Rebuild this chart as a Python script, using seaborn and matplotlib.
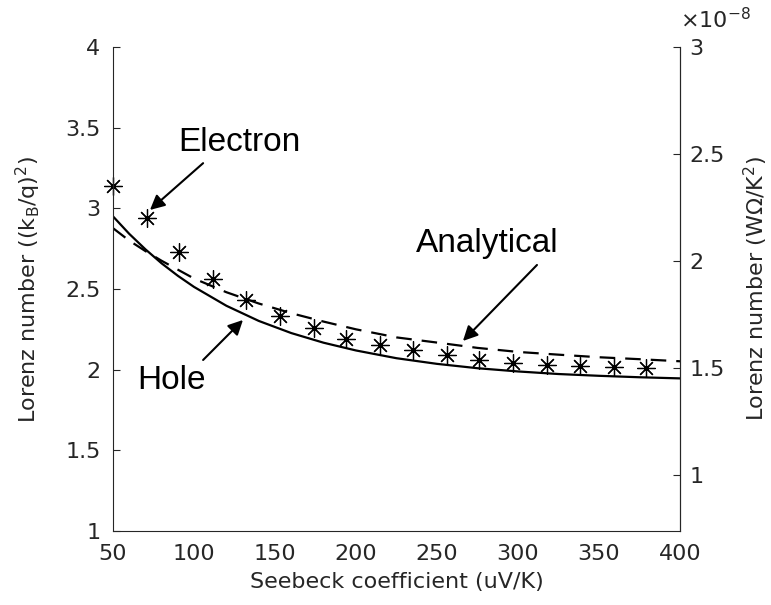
import numpy as np
import pandas as pd
import matplotlib
matplotlib.use("Agg")
import matplotlib.pyplot as plt
import seaborn as sns

# 数据
seebeck_line = [50, 60, 70, 80, 90, 100, 120, 140, 160, 180, 200,
                225, 250, 275, 300, 325, 350, 375, 400]
lorenz_hole = [2.95, 2.842, 2.746, 2.659, 2.582, 2.513, 2.396, 2.302, 2.227, 2.167, 2.119,
               2.071, 2.036, 2.009, 1.989, 1.973, 1.962, 1.953, 1.946]
lorenz_analytical = [2.877, 2.80, 2.735, 2.675, 2.62, 2.565, 2.48, 2.41, 2.35, 2.298, 2.25,
                     2.20, 2.168, 2.135, 2.11, 2.093, 2.077, 2.065, 2.052]

seebeck_electron = [50, 71, 91, 112, 132, 153, 174, 194, 215, 235, 256,
                    276, 297, 318, 338, 359, 379]
lorenz_electron = [3.14, 2.94, 2.73, 2.56, 2.43, 2.33, 2.26, 2.19, 2.15, 2.12, 2.09,
                   2.06, 2.04, 2.03, 2.022, 2.015, 2.01]

x_ticks = [50, 100, 150, 200, 250, 300, 350, 400]
left_ticks = [1, 1.5, 2, 2.5, 3, 3.5, 4]
right_ticks = [1, 1.5, 2, 2.5, 3]

sns.set_style("white")
plt.rcParams['font.family'] = ['DejaVu Sans']
gray = '#262626'

fig = plt.figure(figsize=(7.71, 6.05), dpi=100)
ax = fig.add_axes([0.1466, 0.1223, 0.7354, 0.80])

df_line = pd.DataFrame({'x': seebeck_line, 'hole': lorenz_hole, 'ana': lorenz_analytical})
df_e = pd.DataFrame({'x': seebeck_electron, 'y': lorenz_electron})

sns.lineplot(data=df_line, x='x', y='hole', ax=ax, color='k', lw=1.6)
sns.lineplot(data=df_line, x='x', y='ana', ax=ax, color='k', lw=1.6,
             linestyle=(0, (7, 4.5)))
sns.lineplot(data=df_e, x='x', y='y', ax=ax, color='k', linestyle='none',
             marker=(8, 2, 0), markersize=13, markeredgewidth=0.9,
             markeredgecolor='k', clip_on=False)

ax.set_xlim(50, 400)
ax.set_ylim(1, 4)
ax.set_xticks(x_ticks)
ax.set_yticks(left_ticks)
ax.set_yticklabels(['%g' % t for t in left_ticks])
ax.set_xlabel('Seebeck coefficient (uV/K)', fontsize=16, color=gray, labelpad=6)
ax.set_ylabel('Lorenz number ((k$_\\mathregular{B}$/q)$^\\mathregular{2}$)',
              fontsize=16, color=gray, labelpad=16)

# 右侧坐标轴 (单位 1e-8)
ax2 = ax.twinx()
ax2.set_ylim(0.74, 3)
ax2.set_yticks(right_ticks)
ax2.set_yticklabels(['%g' % t for t in right_ticks])
ax2.set_ylabel('Lorenz number (W\u03a9/K$^\\mathregular{2}$)', fontsize=16, color=gray,
               labelpad=12)
ax2.text(1.0, 1.03, '$\\times$10$^{-8}$', transform=ax2.transAxes, fontsize=16,
         color=gray, ha='left', va='bottom')

for a in (ax, ax2):
    a.spines['top'].set_visible(False)
    for s in a.spines.values():
        s.set_color(gray)
        s.set_linewidth(0.8)
    a.tick_params(direction='in', length=5, width=0.8, colors=gray, labelsize=16)
ax.tick_params(axis='y', right=False, pad=9)
ax.tick_params(axis='x', pad=9)
ax2.tick_params(axis='y', pad=7)
ax2.spines['left'].set_visible(False)
ax2.spines['bottom'].set_visible(False)

# 注释
ann_font = dict(family=['Liberation Sans', 'DejaVu Sans'], fontsize=24, color='k',
                ha='center', va='center')
ax.text(127.8, 3.41, 'Electron', **ann_font)
ax.text(280.9, 2.78, 'Analytical', **ann_font)
ax.text(86.4, 1.93, 'Hole', **ann_font)
arrow = dict(arrowstyle='-|>', color='k', lw=1.5, mutation_scale=22, shrinkA=0, shrinkB=0)
ax.annotate('', xy=(72.8, 2.99), xytext=(105.6, 3.28), arrowprops=arrow)
ax.annotate('', xy=(266, 2.178), xytext=(311.7, 2.649), arrowprops=arrow)
ax.annotate('', xy=(130.2, 2.308), xytext=(105.6, 2.06), arrowprops=arrow)

fig.savefig('out.png', dpi=100)
